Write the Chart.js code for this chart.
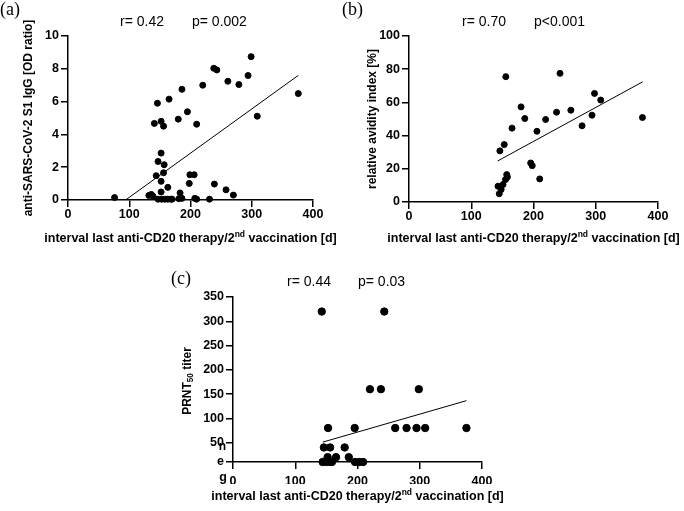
<!DOCTYPE html>
<html>
<head>
<meta charset="utf-8">
<script src="https://cdn.jsdelivr.net/npm/chart.js@4.4.1/dist/chart.umd.min.js"></script>
<style>
  html, body { margin: 0; padding: 0; background: #fff; }
  #wrap { position: relative; width: 684px; height: 511px; }
  canvas { position: absolute; left: 0; top: 0; }
</style>
</head>
<body>
<div id="wrap">
  <canvas id="chartA" width="684" height="511"></canvas>
  <canvas id="chartB" width="684" height="511"></canvas>
  <canvas id="chartC" width="684" height="511"></canvas>
</div>
<script>
// interval last anti-CD20 therapy / 2nd vaccination [d]
const xTicks = [0, 100, 200, 300, 400];

// (a) anti-SARS-CoV-2 S1 IgG [OD ratio]
const aDays = [76, 132, 136, 139, 141, 144, 146, 147, 147, 152, 152, 152, 152, 153, 156, 156, 157, 158,
  163, 163, 165, 168, 170, 180, 181, 183, 186, 186, 195, 198, 199, 206, 207, 210, 210, 220, 231,
  238, 239, 243, 258, 261, 270, 279, 294, 299, 309, 376];
const aIgG = [0.15, 0.28, 0.34, 0.22, 4.67, 1.48, 5.9, 2.35, 0.05, 4.8, 2.86, 1.14, 0.49, 0.05, 4.5, 1.66, 2.15, 0.05,
  0.77, 0.05, 6.15, 0.05, 0.05, 4.93, 0.08, 0.43, 6.75, 0.1, 5.38, 1.01, 1.54, 1.54, 0.1, 4.62, 0.05, 7.0, 0.05,
  8.03, 0.97, 7.93, 0.62, 7.24, 0.3, 7.04, 7.59, 8.74, 5.11, 6.49];
const aFitX = [94, 376];
const aFitY = [0, 7.6];
const aYTicks = [0, 2, 4, 6, 8, 10];

// (b) relative avidity index [%]
const bDays = [143, 145, 146, 148, 151, 153, 155, 155.5, 157, 158, 165.5, 180, 186, 195.5, 198, 205.5, 210,
  219.5, 237, 242.6, 260, 278, 294, 298, 308, 375];
const bAvidity = [9.5, 5, 30.8, 7.5, 10.5, 34.6, 13.5, 75.5, 16.5, 15, 44.5, 57.3, 50.3, 23.5, 21.9, 42.6, 13.9,
  49.7, 54.1, 77.5, 55.3, 45.9, 52.3, 65.4, 61.4, 50.9];
const bFitX = [142.4, 375.4];
const bFitY = [24.7, 72.4];
const bYTicks = [0, 20, 40, 60, 80, 100];

// (c) PRNT50 titer
const cDays = [142.6, 243, 220, 237.6, 298.5, 152.7, 195.5, 260.6, 278.8, 294.8, 308.7, 375,
  146, 156, 179.4, 152, 165.5, 186, 144, 150, 156, 159, 196, 203, 209];
const cTiter = [320, 320, 160, 160, 160, 80, 80, 80, 80, 80, 80, 80,
  40, 40, 40, 20, 20, 20, 10, 10, 10, 10, 10, 10, 10];
const cFitX = [144.2, 375];
const cFitY = [51, 136.4];
const cYTicks = [10, 50, 100, 150, 200, 250, 300, 350];
const cYTickLabels = ['e', '50', '100', '150', '200', '250', '300', '350'];

Chart.defaults.font.family = "'Liberation Sans', Arial, sans-serif";
Chart.defaults.color = '#000';

// free text (panel letters, statistics, axis titles with sub/superscripts)
const textPlugin = {
  id: 'panelText',
  afterDraw(chart, args, opts) {
    const ctx = chart.ctx;
    (opts.items || []).forEach(it => {
      const parts = typeof it.text === 'string' ? [[it.text, 0]] : it.text;
      const fam = it.family || "'Liberation Sans', Arial, sans-serif";
      const fonts = parts.map(p => (it.bold ? 'bold ' : '') + (p[1] ? it.size * 0.68 : it.size) + 'px ' + fam);
      ctx.save();
      ctx.translate(it.x, it.y);
      if (it.rotate) ctx.rotate(it.rotate);
      ctx.fillStyle = '#000';
      ctx.textBaseline = 'middle';
      ctx.textAlign = 'left';
      let total = 0;
      parts.forEach((p, i) => { ctx.font = fonts[i]; total += ctx.measureText(p[0]).width; });
      let x = it.align === 'left' ? 0 : -total / 2;
      parts.forEach((p, i) => {
        ctx.font = fonts[i];
        const dy = p[1] === 1 ? -it.size * 0.38 : (p[1] === -1 ? it.size * 0.3 : 0);
        ctx.fillText(p[0], x, dy);
        x += ctx.measureText(p[0]).width;
      });
      ctx.restore();
    });
  }
};

const xTitle = [['interval last anti-CD20 therapy/2', 0], ['nd', 1], [' vaccination [d]', 0]];

function pts(xs, ys) {
  return xs.map((x, i) => ({ x: x, y: ys[i] }));
}

function makeChart(id, cfg) {
  const tickFont = { size: 12.5, weight: 'bold' };
  return new Chart(document.getElementById(id), {
    type: 'scatter',
    data: {
      datasets: [
        {
          data: pts(cfg.xs, cfg.ys),
          backgroundColor: '#000',
          borderColor: '#000',
          pointRadius: cfg.radius,
          pointHoverRadius: cfg.radius,
          clip: false
        },
        {
          type: 'line',
          data: pts(cfg.fitX, cfg.fitY),
          borderColor: '#000',
          borderWidth: 1,
          pointRadius: 0,
          fill: false
        }
      ]
    },
    options: {
      responsive: false,
      animation: false,
      layout: { padding: cfg.padding },
      plugins: {
        legend: { display: false },
        tooltip: { enabled: false },
        panelText: { items: cfg.texts }
      },
      scales: {
        x: {
          type: 'linear',
          min: 0,
          max: 400,
          afterBuildTicks: s => { s.ticks = xTicks.map(v => ({ value: v })); },
          afterFit: s => { s.height = 22; },
          grid: { drawOnChartArea: false, drawTicks: true, tickLength: 7, color: '#000', lineWidth: 1.5 },
          border: { display: true, color: '#000', width: 1.5 },
          ticks: { font: tickFont, padding: cfg.xPad, maxRotation: 0, autoSkip: false }
        },
        y: {
          type: 'linear',
          min: cfg.yTicks[0],
          max: cfg.yTicks[cfg.yTicks.length - 1],
          afterBuildTicks: s => { s.ticks = cfg.yTicks.map(v => ({ value: v })); },
          afterFit: s => { s.width = 40; },
          grid: { drawOnChartArea: false, drawTicks: true, tickLength: 7, color: '#000', lineWidth: 1.5 },
          border: { display: true, color: '#000', width: 1.5 },
          ticks: {
            font: tickFont,
            padding: 2,
            autoSkip: false,
            callback: (v, i) => cfg.yLabels ? cfg.yLabels[i] : v
          }
        }
      }
    },
    plugins: [textPlugin]
  });
}

const serif = "'Liberation Serif', 'Times New Roman', serif";

makeChart('chartA', {
  xs: aDays, ys: aIgG, fitX: aFitX, fitY: aFitY, yTicks: aYTicks, radius: 3, xPad: 0,
  padding: { left: 28, top: 36, right: 371, bottom: 289 },
  texts: [
    { text: '(a)', x: 0, y: 10, size: 18, family: serif, align: 'left' },
    { text: 'r= 0.42', x: 120, y: 22, size: 14, align: 'left' },
    { text: 'p= 0.002', x: 192, y: 22, size: 14, align: 'left' },
    { text: 'anti-SARS-CoV-2 S1 IgG [OD ratio]', x: 29, y: 118, size: 12, bold: true, rotate: -Math.PI / 2 },
    { text: xTitle, x: 190.5, y: 239, size: 12.5, bold: true }
  ]
});

makeChart('chartB', {
  xs: bDays, ys: bAvidity, fitX: bFitX, fitY: bFitY, yTicks: bYTicks, radius: 3, xPad: 0,
  padding: { left: 369, top: 36, right: 26, bottom: 287 },
  texts: [
    { text: '(b)', x: 342, y: 10, size: 18, family: serif, align: 'left' },
    { text: 'r= 0.70', x: 462, y: 22, size: 14, align: 'left' },
    { text: 'p<0.001', x: 534, y: 22, size: 14, align: 'left' },
    { text: 'relative avidity index [%]', x: 372.5, y: 119, size: 12, bold: true, rotate: -Math.PI / 2 },
    { text: xTitle, x: 533.5, y: 239, size: 12.5, bold: true }
  ]
});

makeChart('chartC', {
  xs: cDays, ys: cTiter, fitX: cFitX, fitY: cFitY, yTicks: cYTicks, yLabels: cYTickLabels, radius: 3.7, xPad: 5,
  padding: { left: 193, top: 297, right: 202, bottom: 27 },
  texts: [
    { text: '(c)', x: 171, y: 279, size: 18, family: serif, align: 'left' },
    { text: 'r= 0.44', x: 287, y: 282, size: 14, align: 'left' },
    { text: 'p= 0.03', x: 358, y: 282, size: 14, align: 'left' },
    { text: [['PRNT', 0], ['50', -1], [' titer', 0]], x: 187.5, y: 381, size: 12, bold: true, rotate: -Math.PI / 2 },
    { text: 'n', x: 222.5, y: 447, size: 12, bold: true },
    { text: 'g', x: 223, y: 478, size: 12.5, bold: true },
    { text: xTitle, x: 357.5, y: 497, size: 12.5, bold: true }
  ]
});
</script>
</body>
</html>
